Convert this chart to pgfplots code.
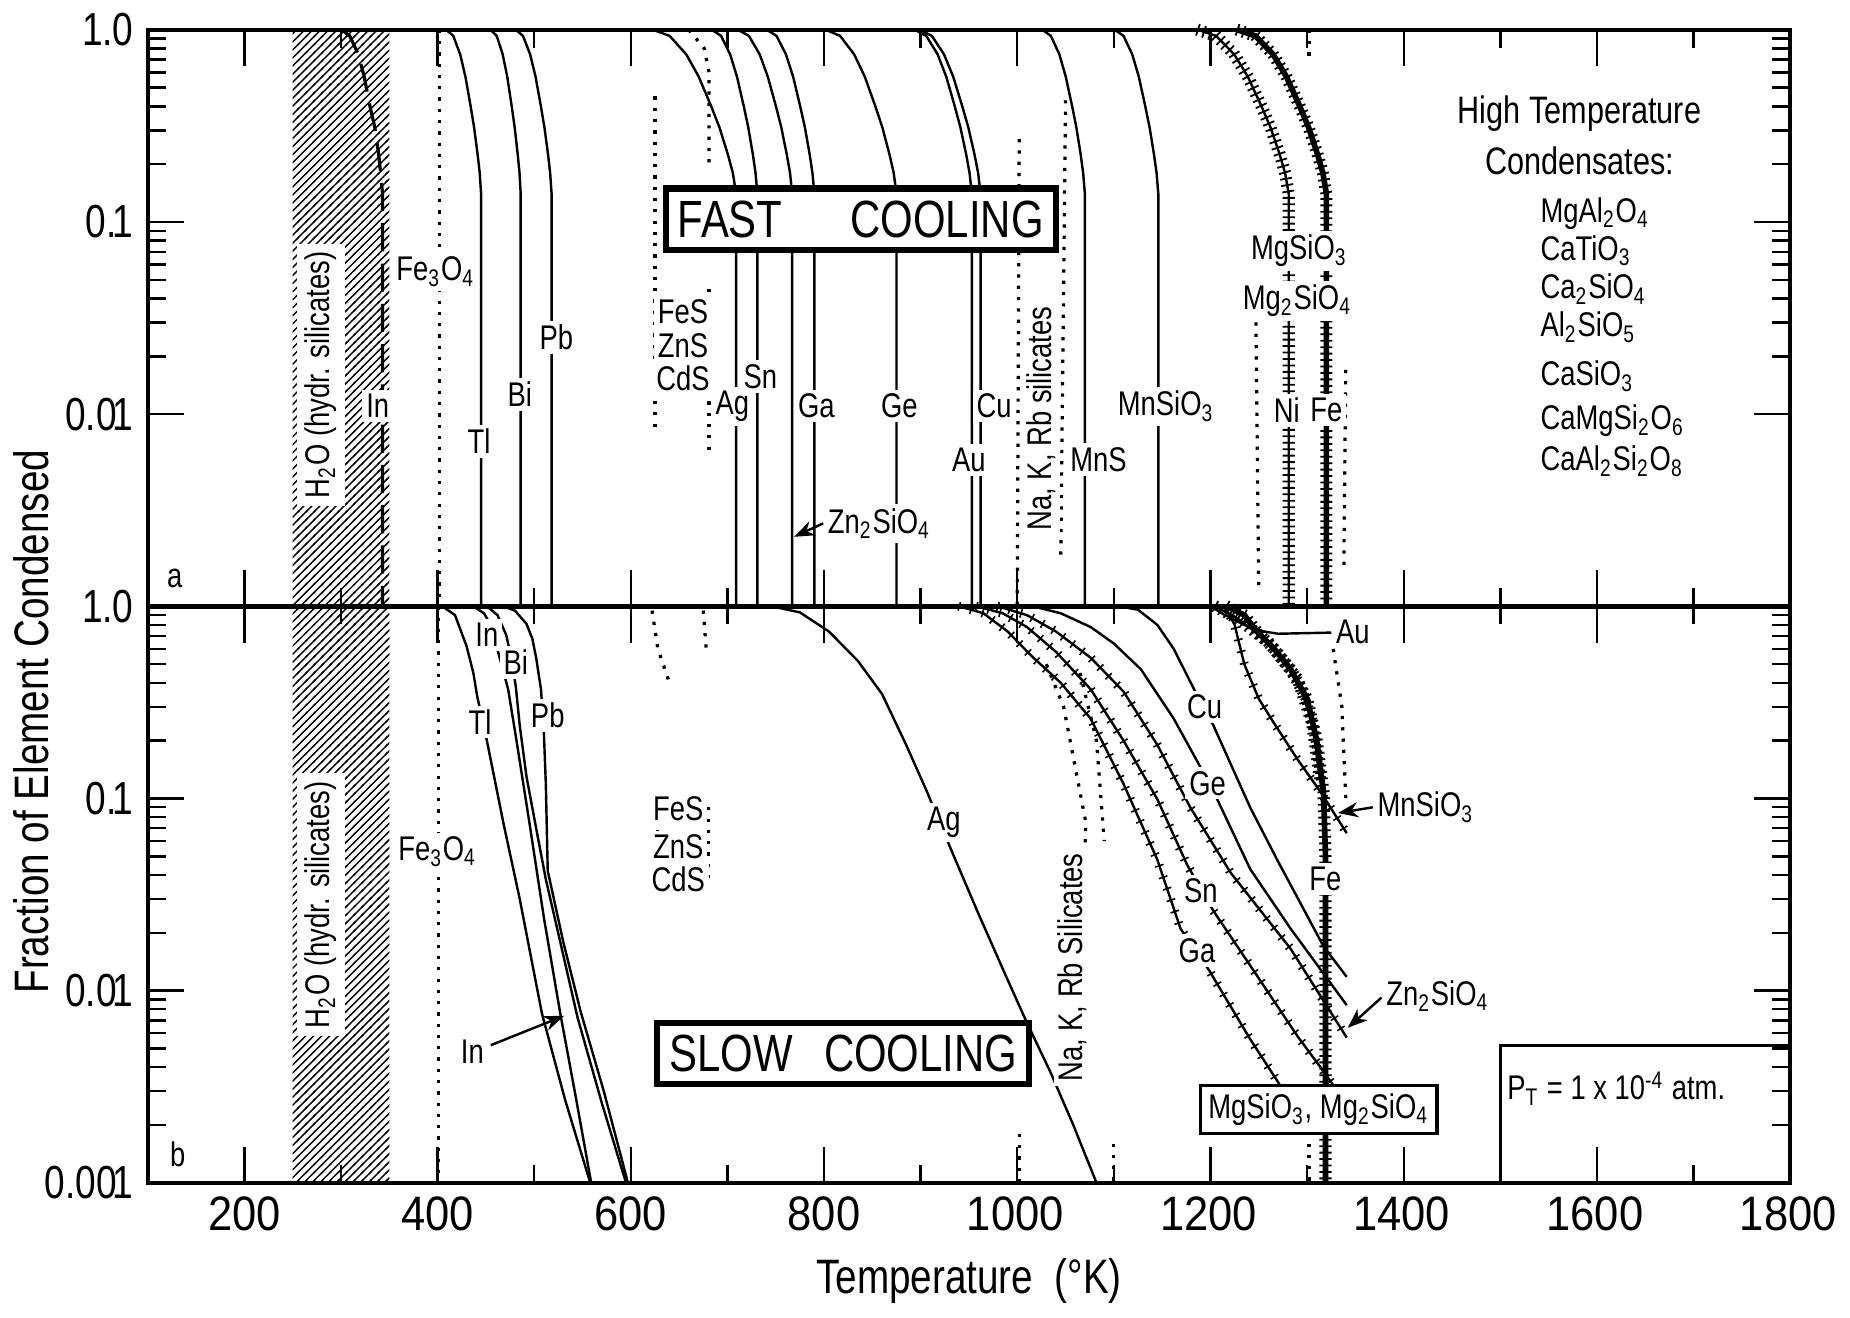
\documentclass[border=0pt]{standalone}
\usepackage{fontspec}
\setmainfont{Liberation Sans}[FakeStretch=0.8]
\newfontfamily\tickfont{Liberation Sans}[FakeStretch=0.9]
\usepackage{pgfplots}
\pgfplotsset{compat=1.18}
\usetikzlibrary{patterns,patterns.meta,decorations.pathreplacing,arrows.meta}

\newcommand{\lbl}{\fontsize{8.5}{10}\selectfont}
\newcommand{\ts}[1]{\textsubscript{#1}}
\newcommand{\on}{\kern-0.08em1}

\tikzdeclarepattern{
  name=dhatch,
  type=uncolored,
  bounding box={(-0.3pt,-0.3pt) and (2.3pt,2.3pt)},
  tile size={(2pt,2pt)},
  code={\draw[line width=0.35pt] (-0.3pt,-0.3pt) -- (2.3pt,2.3pt);}
}

\tikzset{
  mycrv/.style={black, line width=0.6pt},
  mydots/.style={black, line width=0.8pt, dotted},
  myhatch/.style={postaction={decorate, draw, line width=0.45pt, decoration={ticks, segment length=1.6pt, amplitude=1.5pt}}},
  mysparse/.style={postaction={decorate, draw, line width=0.4pt, decoration={ticks, segment length=3pt, amplitude=1.1pt}}},
  lab/.style={font=\lbl, fill=white, inner sep=1pt},
}

\begin{document}
\begin{tikzpicture}

% ---------------- (b) slow cooling ----------------
\begin{axis}[
  width=14.33cm, height=5.03cm, scale only axis, at={(0,0)},
  xmin=100, xmax=1800, ymode=log, ymin=0.001, ymax=1,
  xtick={200,400,600,800,1000,1200,1400,1600,1800},
  minor xtick={100,300,500,700,900,1100,1300,1500,1700},
  axis line style={line width=1.1pt},
  major tick length=9pt, minor tick length=4.5pt,
  every tick/.style={black, line width=0.6pt},
  tick align=inside, clip=false,
  /pgf/number format/assume math mode=true,
  xticklabel style={font=\tickfont\fontsize{12}{14}\selectfont},
  yticklabel style={font=\fontsize{11.5}{13}\selectfont},
  ytick={0.001,0.01,0.1,1}, yticklabels={0.00\on, 0.0\on, 0.\on, \on.0},
  xticklabels={200,400,600,800,\on000,\on200,\on400,\on600,\on800},
  xlabel={Temperature\ \ (°K)},
  xlabel style={font=\fontsize{12}{14}\selectfont},
  ylabel={Fraction of Element Condensed},
  ylabel style={at={(rel axis cs:-0.071,0.8)}, anchor=center, font=\fontsize{12}{14}\selectfont},
]
\addplot[draw=none, pattern=dhatch] coordinates {(250,0.001) (250,1) (350,1) (350,0.001) (250,0.001)};

% dotted boundaries
\addplot[mydots] coordinates {(401,1) (401,0.001)};
\addplot[mydots] coordinates {(622,0.95) (628,0.6) (640,0.4)};
\addplot[mydots] coordinates {(675,0.95) (678,0.6)};
\addplot[mydots] coordinates {(628,0.09) (628,0.035)};
\addplot[mydots] coordinates {(680,0.09) (680,0.035)};
\addplot[mydots] coordinates {(1030,0.5) (1048,0.3) (1071,0.075) (1067,0.02)};
\addplot[mydots] coordinates {(1065,0.45) (1082,0.2) (1090,0.06)};
\addplot[mydots] coordinates {(1002,0.0018) (1002,0.001)};
\addplot[mydots] coordinates {(1100,0.0016) (1100,0.001)};
\addplot[mydots] coordinates {(1302,0.0016) (1302,0.001)};
\addplot[mydots] coordinates {(1327,0.6) (1336,0.3) (1340,0.1)};

% curves
\addplot[mycrv] coordinates {(405,1) (418,0.9) (430,0.62) (437,0.45) (441,0.34) (451,0.2) (468,0.075) (485,0.030) (508,0.0076) (532,0.0027) (558,0.001)};
\addplot[mycrv] coordinates {(437,1) (448,0.92) (455,0.8) (461,0.62) (467,0.48) (473,0.37) (481,0.21) (495,0.075) (510,0.024) (527,0.0076) (543,0.0028) (559,0.001)};
\addplot[mycrv] coordinates {(451,1) (462,0.9) (471,0.71) (477,0.52) (481,0.38) (485,0.24) (492,0.13) (502,0.07) (512,0.038) (528,0.017) (545,0.0072) (570,0.0026) (595,0.001)};
\addplot[mycrv] coordinates {(468,1) (480,0.95) (492,0.81) (498,0.68) (502,0.54) (507,0.37) (510,0.22) (512,0.12) (514,0.042) (530,0.018) (548,0.0078) (572,0.003) (597,0.001)};
\addplot[mycrv] coordinates {(746,1) (775,0.93) (805,0.74) (835,0.52) (860,0.35) (885,0.19) (906,0.11) (933,0.052) (960,0.025) (988,0.012) (1010,0.0068) (1034,0.0038) (1058,0.002) (1082,0.001)};
\addplot[mycrv, mysparse] coordinates {(940,1) (965,0.92) (990,0.74) (1015,0.55) (1045,0.4) (1076,0.26) (1110,0.119) (1145,0.048) (1169,0.021) (1198,0.0129) (1241,0.0056) (1276,0.003) (1300,0.0019)};
\addplot[mycrv, mysparse] coordinates {(958,1) (985,0.92) (1010,0.78) (1040,0.58) (1076,0.37) (1110,0.2) (1145,0.099) (1176,0.045) (1203,0.026) (1248,0.012) (1290,0.0058) (1317,0.0038) (1345,0.0024)};
\addplot[mycrv, mysparse] coordinates {(980,1) (1010,0.9) (1040,0.74) (1076,0.54) (1110,0.36) (1145,0.19) (1179,0.09) (1221,0.041) (1283,0.0165) (1341,0.0057)};
\addplot[mycrv] coordinates {(1016,1) (1045,0.92) (1076,0.78) (1100,0.64) (1128,0.47) (1162,0.26) (1186,0.157) (1207,0.099) (1241,0.043) (1283,0.021) (1341,0.0084)};
\addplot[mycrv] coordinates {(1105,1) (1125,0.96) (1145,0.8) (1162,0.6) (1183,0.37) (1203,0.24) (1241,0.09) (1269,0.048) (1317,0.017) (1341,0.0118)};
\addplot[mycrv, mysparse] coordinates {(1215,1) (1225,0.8) (1235,0.5) (1250,0.33) (1265,0.25) (1290,0.16) (1314,0.108) (1341,0.066)};
\addplot[mycrv] coordinates {(1200,1) (1215,0.9) (1235,0.8) (1255,0.74) (1270,0.72)};
\addplot[mycrv, myhatch] coordinates {(1205,1) (1230,0.85) (1260,0.65) (1290,0.42) (1305,0.25) (1314,0.12)};
\addplot[mycrv, line width=1.4pt, myhatch] coordinates {(1217,1) (1235,0.9) (1248,0.74) (1266,0.6) (1283,0.47) (1300,0.33) (1310,0.2) (1317,0.108) (1319,0.05) (1319,0.001)};

% labels
\node[lab, rotate=90, inner sep=2pt] at (axis cs:279,0.028) {H\ts{2}O (hydr. silicates)};
\node[lab] at (axis cs:400,0.053) {Fe\ts{3}O\ts{4}};
\node[lab] at (axis cs:451,0.71) {In};
\node[lab] at (axis cs:481,0.51) {Bi};
\node[lab] at (axis cs:444,0.25) {Tl};
\node[lab] at (axis cs:514,0.27) {Pb};
\node[lab] at (axis cs:436,0.0048) {In};
\draw[-{Stealth[length=5pt]}, line width=0.6pt] (axis cs:455,0.0052) -- (axis cs:531,0.0074);
\node[lab] at (axis cs:649,0.088) {FeS};
\node[lab] at (axis cs:649,0.056) {ZnS};
\node[lab] at (axis cs:649,0.038) {CdS};
\node[lab] at (axis cs:924,0.075) {Ag};
\node[draw, line width=1.5pt, fill=white, inner sep=3pt, font=\fontsize{13}{15}\selectfont] at (axis cs:820,0.0047) {SLOW\hspace{0.6em}COOLING};
\node[lab, rotate=90] at (axis cs:1057,0.0132) {Na, K, Rb Silicates};
\node[lab] at (axis cs:1194,0.30) {Cu};
\node[lab] at (axis cs:1197,0.12) {Ge};
\node[lab] at (axis cs:1190,0.033) {Sn};
\node[lab] at (axis cs:1186,0.0162) {Ga};
\node[lab] at (axis cs:1319,0.038) {Fe};
\draw[line width=0.6pt] (axis cs:1270,0.72) -- (axis cs:1325,0.73);
\node[lab, anchor=west] at (axis cs:1325,0.74) {Au};
\draw[-{Stealth[length=5pt]}, line width=0.6pt] (axis cs:1368,0.090) -- (axis cs:1332,0.084);
\node[lab, anchor=west] at (axis cs:1368,0.090) {MnSiO\ts{3}};
\draw[-{Stealth[length=5pt]}, line width=0.6pt] (axis cs:1377,0.0092) -- (axis cs:1342,0.0064);
\node[lab, anchor=west] at (axis cs:1377,0.0094) {Zn\ts{2}SiO\ts{4}};
\node[lab, draw, line width=0.8pt, inner sep=2pt] at (axis cs:1312,0.0024) {MgSiO\ts{3}, Mg\ts{2}SiO\ts{4}};
\draw[line width=0.8pt] (axis cs:1500,0.001) -- (axis cs:1500,0.0052) -- (axis cs:1800,0.0052);
\node[font=\lbl] at (axis cs:1620,0.0031) {P\ts{T} = 1 x 10\textsuperscript{-4} atm.};
\node[font=\lbl] at (axis cs:131,0.0014) {b};
\end{axis}

% ---------------- (a) fast cooling ----------------
\begin{axis}[
  width=14.33cm, height=5.03cm, scale only axis, at={(0,5.03cm)},
  xmin=100, xmax=1800, ymode=log, ymin=0.001, ymax=1,
  xtick={200,400,600,800,1000,1200,1400,1600,1800},
  minor xtick={100,300,500,700,900,1100,1300,1500,1700},
  axis line style={line width=1.1pt},
  major tick length=9pt, minor tick length=4.5pt,
  every tick/.style={black, line width=0.6pt},
  tick align=inside, clip=false,
  /pgf/number format/assume math mode=true,
  yticklabel style={font=\fontsize{11.5}{13}\selectfont},
  ytick={0.01,0.1,1}, yticklabels={0.0\on, 0.\on, \on.0},
  xticklabels={},
]
\addplot[draw=none, pattern=dhatch] coordinates {(250,0.001) (250,1) (350,1) (350,0.001) (250,0.001)};

% dotted boundaries
\addplot[mydots] coordinates {(402,1) (402,0.001)};
\addplot[mydots] coordinates {(625,0.45) (625,0.008)};
\addplot[mydots] coordinates {(660,1) (676,0.8) (681,0.6) (681,0.2)};
\addplot[mydots] coordinates {(681,0.045) (681,0.006)};
\addplot[mydots] coordinates {(1002,0.27) (1000,0.001)};
\addplot[mydots] coordinates {(1050,0.43) (1045,0.0018)};
\addplot[mydots] coordinates {(1247,0.03) (1250,0.0012)};
\addplot[mydots] coordinates {(1302,1) (1302,0.7)};
\addplot[mydots] coordinates {(1340,0.017) (1338,0.0015)};

% curves
\addplot[mycrv, line width=0.8pt, dash pattern=on 7pt off 3pt] coordinates {(301,1) (309,0.93) (318,0.745) (324,0.57) (330,0.40) (335,0.31) (339,0.225) (341,0.18) (343,0.14) (343,0.001)};
\addplot[mycrv] coordinates {(409,1) (416.2,0.93) (423.4,0.745) (428.8,0.57) (434.2,0.40) (437.8,0.31) (441.4,0.225) (443.6,0.18) (445,0.14) (445,0.001)};
\addplot[mycrv] coordinates {(455,1) (461.2,0.93) (467.4,0.745) (472.1,0.57) (476.7,0.40) (479.8,0.31) (482.9,0.225) (484.8,0.18) (486,0.14) (486,0.001)};
\addplot[mycrv] coordinates {(481,1) (488.4,0.93) (495.8,0.745) (501.4,0.57) (506.9,0.40) (510.6,0.31) (514.3,0.225) (516.5,0.18) (518,0.14) (518,0.001)};
\addplot[mycrv] coordinates {(623,1) (640.2,0.93) (657.4,0.745) (670.3,0.57) (683.2,0.40) (691.8,0.31) (700.4,0.225) (705.6,0.18) (709,0.14) (709,0.001)};
\addplot[mycrv] coordinates {(684,1) (693.4,0.93) (702.8,0.745) (709.9,0.57) (716.9,0.40) (721.6,0.31) (726.3,0.225) (729.1,0.18) (731,0.14) (731,0.001)};
\addplot[mycrv] coordinates {(711,1) (722.2,0.93) (733.4,0.745) (741.8,0.57) (750.2,0.40) (755.8,0.31) (761.4,0.225) (764.8,0.18) (767,0.14) (767,0.001)};
\addplot[mycrv] coordinates {(741,1) (750.8,0.93) (760.6,0.745) (768,0.57) (775.3,0.40) (780.2,0.31) (785.1,0.225) (788,0.18) (790,0.14) (790,0.001)};
\addplot[mycrv] coordinates {(802,1) (816.6,0.93) (831.2,0.745) (842.2,0.57) (853.1,0.40) (860.4,0.31) (867.7,0.225) (872.1,0.18) (875,0.14) (875,0.001)};
\addplot[mycrv] coordinates {(894,1) (905.8,0.93) (917.6,0.745) (926.5,0.57) (935.3,0.40) (941.2,0.31) (947.1,0.225) (950.6,0.18) (953,0.14) (953,0.001)};
\addplot[mycrv] coordinates {(899,1) (911.6,0.93) (924.2,0.745) (933.7,0.57) (943.1,0.40) (949.4,0.31) (955.7,0.225) (959.5,0.18) (962,0.14) (962,0.001)};
\addplot[mycrv] coordinates {(1026,1) (1034.8,0.93) (1043.6,0.745) (1050.2,0.57) (1056.8,0.40) (1061.2,0.31) (1065.6,0.225) (1068.2,0.18) (1070,0.14) (1070,0.001)};
\addplot[mycrv] coordinates {(1101,1) (1110,0.93) (1119,0.745) (1125.8,0.57) (1132.5,0.40) (1137,0.31) (1141.5,0.225) (1144.2,0.18) (1146,0.14) (1146,0.001)};
\addplot[mycrv, myhatch] coordinates {(1187,1) (1205.8,0.93) (1224.6,0.745) (1238.7,0.57) (1252.8,0.40) (1262.2,0.31) (1271.6,0.225) (1277.2,0.18) (1281,0.14) (1281,0.001)};
\addplot[mycrv, line width=1.4pt, myhatch] coordinates {(1228,1) (1246.4,0.93) (1264.8,0.745) (1278.6,0.57) (1292.4,0.40) (1301.6,0.31) (1310.8,0.225) (1316.3,0.18) (1320,0.14) (1320,0.001)};

% labels
\node[lab, rotate=90, inner sep=2pt] at (axis cs:279,0.016) {H\ts{2}O (hydr. silicates)};
\node[lab] at (axis cs:338,0.011) {In};
\node[lab] at (axis cs:398,0.055) {Fe\ts{3}O\ts{4}};
\node[lab] at (axis cs:443,0.0072) {Tl};
\node[lab] at (axis cs:485,0.0127) {Bi};
\node[lab] at (axis cs:523,0.025) {Pb};
\node[lab] at (axis cs:654,0.034) {FeS};
\node[lab] at (axis cs:654,0.0227) {ZnS};
\node[lab] at (axis cs:654,0.0153) {CdS};
\node[lab] at (axis cs:705,0.011) {Ag};
\node[lab] at (axis cs:734,0.0157) {Sn};
\node[lab] at (axis cs:792,0.011) {Ga};
\node[lab] at (axis cs:878,0.011) {Ge};
\node[lab] at (axis cs:976,0.011) {Cu};
\node[lab] at (axis cs:950,0.0058) {Au};
\draw[-{Stealth[length=5pt]}, line width=0.6pt] (axis cs:799,0.0027) -- (axis cs:769,0.0023);
\node[lab, anchor=west] at (axis cs:799,0.0027) {Zn\ts{2}SiO\ts{4}};
\node[draw, line width=1.5pt, fill=white, inner sep=3pt, font=\fontsize{13}{15}\selectfont] at (axis cs:838,0.1035) {FAST\hspace{1.3em}COOLING};
\node[lab, rotate=90] at (axis cs:1025,0.0095) {Na, K, Rb silicates};
\node[lab] at (axis cs:1084,0.0058) {MnS};
\node[lab] at (axis cs:1154,0.011) {MnSiO\ts{3}};
\node[lab] at (axis cs:1292,0.071) {MgSiO\ts{3}};
\node[lab] at (axis cs:1290,0.039) {Mg\ts{2}SiO\ts{4}};
\node[lab] at (axis cs:1279,0.0105) {Ni};
\node[lab] at (axis cs:1320,0.0105) {Fe};
\node[font=\fontsize{9.5}{11}\selectfont] at (axis cs:1582,0.365) {High Temperature};
\node[font=\fontsize{9.5}{11}\selectfont] at (axis cs:1582,0.208) {Condensates:};
\node[font=\lbl, anchor=west] at (axis cs:1527,0.111) {MgAl\ts{2}O\ts{4}};
\node[font=\lbl, anchor=west] at (axis cs:1527,0.0708) {CaTiO\ts{3}};
\node[font=\lbl, anchor=west] at (axis cs:1527,0.0446) {Ca\ts{2}SiO\ts{4}};
\node[font=\lbl, anchor=west] at (axis cs:1527,0.0283) {Al\ts{2}SiO\ts{5}};
\node[font=\lbl, anchor=west] at (axis cs:1527,0.0157) {CaSiO\ts{3}};
\node[font=\lbl, anchor=west] at (axis cs:1527,0.0092) {CaMgSi\ts{2}O\ts{6}};
\node[font=\lbl, anchor=west] at (axis cs:1527,0.0057) {CaAl\ts{2}Si\ts{2}O\ts{8}};
\node[font=\lbl] at (axis cs:128,0.0014) {a};
\end{axis}

\end{tikzpicture}
\end{document}
